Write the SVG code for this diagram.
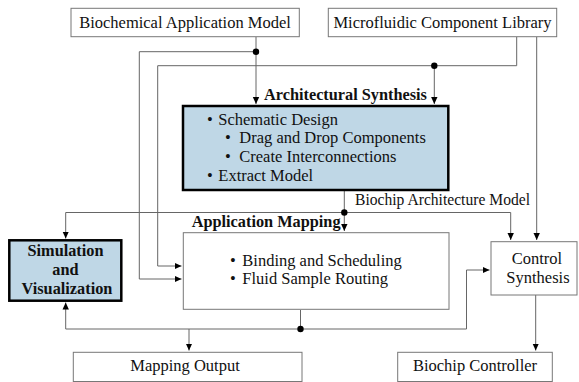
<svg xmlns="http://www.w3.org/2000/svg" width="579" height="382" viewBox="0 0 579 382">
<defs>
<marker id="ah" markerWidth="8" markerHeight="8" refX="7" refY="4" orient="auto" markerUnits="userSpaceOnUse">
<path d="M0,0.8 L7,4 L0,7.2 Z" fill="#000"/>
</marker>
<style>
.box{fill:#fff;stroke:#777;stroke-width:1}
.hbox{fill:#bfd7e6;stroke:#000;stroke-width:2.5}
.t{font-family:"Liberation Serif","Times New Roman",serif;font-size:16.5px;fill:#111}
.b{font-family:"Liberation Serif","Times New Roman",serif;font-size:16.3px;font-weight:bold;fill:#111}
.c{text-anchor:middle}
.ln{fill:none;stroke:#666;stroke-width:1}
.dot{fill:#000}
</style>
</defs>
<rect width="579" height="382" fill="#fff"/>

<g id="connectors">
<!-- Biochemical app model -->
<path class="ln" d="M256,37 V104" marker-end="url(#ah)"/>
<path class="ln" d="M256,51.7 H139.3 V279 H181.5" marker-end="url(#ah)"/>
<!-- Microfluidic library -->
<path class="ln" d="M516.7,37 V65.7 H157.7 V266 H181.5" marker-end="url(#ah)"/>
<path class="ln" d="M434.3,65.7 V104" marker-end="url(#ah)"/>
<path class="ln" d="M536.7,37 V240" marker-end="url(#ah)"/>
<!-- Architectural synthesis output -->
<path class="ln" d="M344.3,191 V231" marker-end="url(#ah)"/>
<path class="ln" d="M344.3,212.5 H65.7 V238.5" marker-end="url(#ah)"/>
<path class="ln" d="M344.3,212.5 H510.7 V240" marker-end="url(#ah)"/>
<!-- Application mapping output -->
<path class="ln" d="M300.5,310 V329" />
<path class="ln" d="M300.5,329 H65.7 V302.5" marker-end="url(#ah)"/>
<path class="ln" d="M189,329 V350.5" marker-end="url(#ah)"/>
<path class="ln" d="M300.5,329 H466.5 V270 H489.5" marker-end="url(#ah)"/>
<!-- Control synthesis output -->
<path class="ln" d="M535.7,295 V350.5" marker-end="url(#ah)"/>
<circle class="dot" cx="256" cy="51.7" r="3.2"/>
<circle class="dot" cx="434.3" cy="65.7" r="3.2"/>
<circle class="dot" cx="344.3" cy="212.5" r="3.2"/>
<circle class="dot" cx="300.5" cy="329" r="3.2"/>
<text class="t" x="355" y="205" textLength="175" lengthAdjust="spacingAndGlyphs">Biochip Architecture Model</text>
</g>

<g id="biochemical-application-model">
<rect class="box" x="71" y="8.3" width="228.3" height="28.4"/>
<text class="t c" x="185" y="28">Biochemical Application Model</text>
</g>

<g id="microfluidic-component-library">
<rect class="box" x="328.3" y="8.3" width="228.4" height="28.4"/>
<text class="t c" x="442.5" y="28">Microfluidic Component Library</text>
</g>

<g id="architectural-synthesis">
<text class="b" x="264" y="100">Architectural Synthesis</text>
<rect class="hbox" x="183" y="106" width="265.3" height="84"/>
<text class="t" x="207" y="125">•</text>
<text class="t" x="218.3" y="125">Schematic Design</text>
<text class="t" x="225" y="143.3">•</text>
<text class="t" x="239.3" y="143.3">Drag and Drop Components</text>
<text class="t" x="225" y="161.7">•</text>
<text class="t" x="239.3" y="161.7">Create Interconnections</text>
<text class="t" x="207" y="181">•</text>
<text class="t" x="218.3" y="181">Extract Model</text>
</g>

<g id="application-mapping">
<text class="b" x="191.7" y="226.7">Application Mapping</text>
<rect class="box" x="183.3" y="232.7" width="265.7" height="76.6"/>
<text class="t" x="230" y="266">•</text>
<text class="t" x="242.3" y="266">Binding and Scheduling</text>
<text class="t" x="230" y="284.3">•</text>
<text class="t" x="242.3" y="284.3">Fluid Sample Routing</text>
</g>

<g id="simulation-and-visualization">
<rect class="hbox" x="9.3" y="240.3" width="112" height="60.4"/>
<text class="b c" x="65.5" y="256">Simulation</text>
<text class="b c" x="65.5" y="275">and</text>
<text class="b c" x="67" y="294">Visualization</text>
</g>

<g id="control-synthesis">
<rect class="box" x="491" y="241.7" width="86" height="53.3"/>
<text class="t c" x="537" y="264">Control</text>
<text class="t c" x="538" y="282.7">Synthesis</text>
</g>

<g id="mapping-output">
<rect class="box" x="73.3" y="352.3" width="228.7" height="29.2"/>
<text class="t c" x="185" y="371">Mapping Output</text>
</g>

<g id="biochip-controller">
<rect class="box" x="397.7" y="352.3" width="154.6" height="29.2"/>
<text class="t c" x="475" y="371">Biochip Controller</text>
</g>
</svg>
